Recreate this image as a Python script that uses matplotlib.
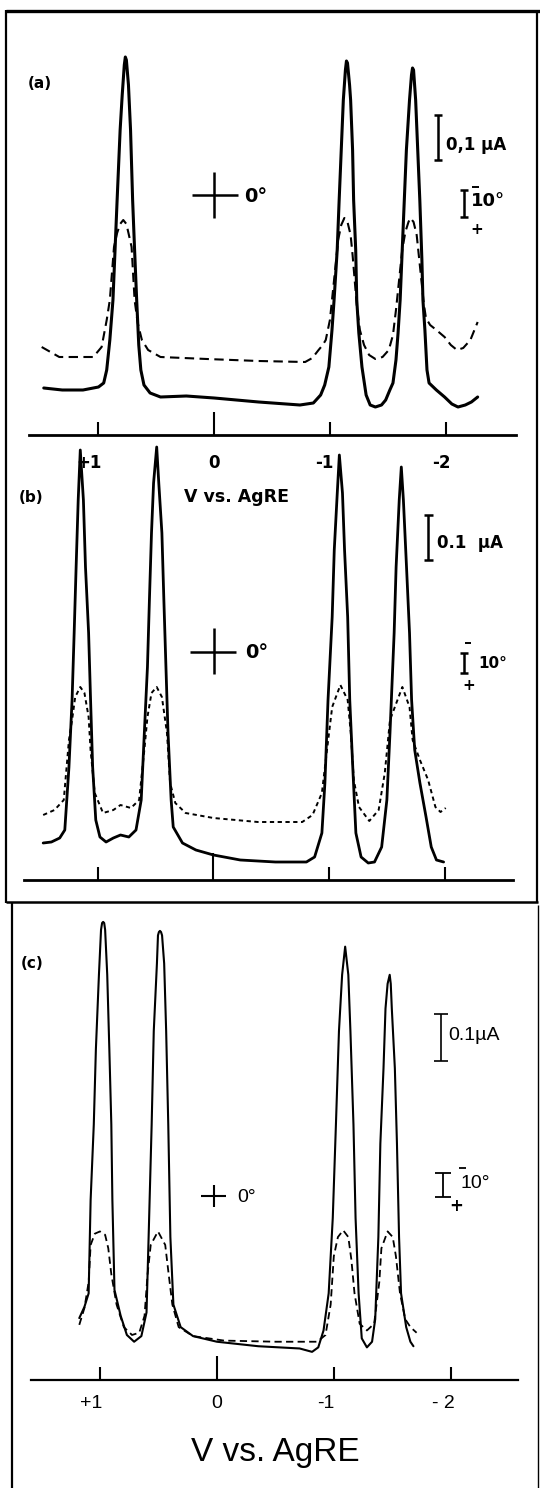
import matplotlib
matplotlib.use("Agg")
import matplotlib.pyplot as plt
from matplotlib.ticker import FixedLocator
from matplotlib.transforms import offset_copy

W, H = 540, 1488

# ---- data: (potential V vs. AgRE, pen deflection in arb. units) ----
# panel (a)
a_solid = [(1.473, 47), (1.313, 45), (1.134, 45), (1.000, 48), (0.955, 52), (0.929, 65),
           (0.902, 95), (0.875, 135), (0.857, 185), (0.839, 235), (0.813, 305), (0.795, 340),
           (0.777, 370), (0.768, 378), (0.759, 375), (0.741, 350), (0.723, 305), (0.705, 235),
           (0.688, 185), (0.670, 135), (0.652, 90), (0.634, 65), (0.607, 50), (0.554, 42),
           (0.464, 38), (0.241, 39), (0.0, 37), (-0.384, 33), (-0.741, 30), (-0.857, 32),
           (-0.920, 40), (-0.955, 50), (-0.991, 68), (-1.018, 105), (-1.036, 135), (-1.063, 185),
           (-1.080, 235), (-1.098, 285), (-1.116, 335), (-1.134, 365), (-1.143, 374), (-1.152, 372),
           (-1.170, 350), (-1.179, 335), (-1.196, 285), (-1.205, 235), (-1.223, 185), (-1.232, 135),
           (-1.250, 102), (-1.277, 68), (-1.313, 40), (-1.348, 30), (-1.393, 28), (-1.446, 30),
           (-1.482, 35), (-1.518, 45), (-1.545, 52), (-1.571, 75), (-1.589, 102), (-1.607, 135),
           (-1.625, 185), (-1.643, 235), (-1.661, 285), (-1.688, 335), (-1.705, 360), (-1.714, 367),
           (-1.723, 365), (-1.741, 335), (-1.759, 285), (-1.777, 235), (-1.795, 175), (-1.804, 135),
           (-1.821, 105), (-1.839, 65), (-1.857, 52), (-1.920, 45), (-1.991, 38), (-2.054, 31),
           (-2.107, 28), (-2.170, 30), (-2.223, 33), (-2.277, 38)]
a_dashed = [(1.491, 88), (1.339, 78), (1.045, 78), (0.973, 88), (0.929, 115), (0.902, 135),
            (0.866, 188), (0.839, 202), (0.813, 211), (0.786, 215), (0.759, 211), (0.741, 202),
            (0.714, 188), (0.688, 135), (0.661, 112), (0.625, 95), (0.571, 85), (0.464, 78),
            (0.063, 76), (-0.384, 74), (-0.786, 73), (-0.848, 77), (-0.902, 85), (-0.938, 90),
            (-0.964, 95), (-1.000, 115), (-1.027, 145), (-1.054, 175), (-1.071, 195), (-1.098, 210),
            (-1.125, 217), (-1.152, 213), (-1.179, 200), (-1.196, 180), (-1.214, 155), (-1.232, 130),
            (-1.259, 105), (-1.295, 90), (-1.339, 80), (-1.393, 76), (-1.455, 78), (-1.509, 85),
            (-1.545, 100), (-1.571, 125), (-1.598, 155), (-1.625, 185), (-1.652, 203), (-1.679, 213),
            (-1.696, 217), (-1.723, 213), (-1.750, 200), (-1.768, 180), (-1.795, 150), (-1.813, 130),
            (-1.830, 117), (-1.866, 110), (-1.920, 105), (-1.991, 98), (-2.045, 90), (-2.098, 85),
            (-2.152, 87), (-2.214, 95), (-2.277, 113)]

# panel (b)
b_solid = [(1.473, 37), (1.402, 38), (1.330, 42), (1.286, 50), (1.250, 113), (1.223, 180),
           (1.205, 247), (1.188, 313), (1.170, 380), (1.152, 430), (1.125, 380), (1.107, 313),
           (1.080, 247), (1.063, 180), (1.045, 113), (1.018, 60), (0.982, 43), (0.929, 38),
           (0.866, 42), (0.804, 45), (0.732, 43), (0.670, 50), (0.625, 80), (0.598, 147),
           (0.571, 213), (0.554, 280), (0.536, 347), (0.518, 397), (0.491, 433), (0.473, 397),
           (0.446, 347), (0.429, 280), (0.411, 213), (0.393, 147), (0.366, 80), (0.348, 53),
           (0.268, 37), (0.152, 30), (0.0, 25), (-0.232, 20), (-0.536, 18), (-0.804, 18),
           (-0.875, 23), (-0.938, 47), (-0.964, 97), (-0.991, 180), (-1.027, 263), (-1.045, 330),
           (-1.071, 387), (-1.089, 425), (-1.116, 387), (-1.134, 330), (-1.161, 263), (-1.179, 180),
           (-1.205, 113), (-1.232, 47), (-1.277, 23), (-1.339, 17), (-1.393, 18), (-1.455, 33),
           (-1.500, 80), (-1.527, 147), (-1.563, 247), (-1.580, 313), (-1.607, 380), (-1.625, 413),
           (-1.643, 380), (-1.670, 313), (-1.696, 247), (-1.714, 180), (-1.741, 130), (-1.786, 97),
           (-1.839, 63), (-1.884, 33), (-1.929, 20), (-1.991, 18)]
b_dashed = [(1.473, 65), (1.375, 70), (1.295, 80), (1.250, 140), (1.223, 160), (1.196, 183),
            (1.152, 193), (1.116, 187), (1.080, 163), (1.063, 130), (1.027, 87), (0.955, 67),
            (0.866, 70), (0.804, 75), (0.714, 72), (0.643, 80), (0.598, 130), (0.571, 163),
            (0.536, 187), (0.491, 193), (0.446, 183), (0.402, 147), (0.375, 97), (0.330, 77),
            (0.241, 67), (0.0, 62), (-0.384, 58), (-0.768, 58), (-0.857, 65), (-0.938, 87),
            (-0.982, 130), (-1.027, 173), (-1.098, 195), (-1.161, 180), (-1.188, 147), (-1.214, 100),
            (-1.259, 73), (-1.348, 59), (-1.429, 70), (-1.482, 107), (-1.527, 160), (-1.634, 193),
            (-1.696, 173), (-1.723, 140), (-1.786, 120), (-1.857, 100), (-1.920, 73), (-1.964, 68),
            (-2.009, 72)]

# panel (c)
c_solid = [(1.177, 55), (1.133, 65), (1.097, 77), (1.080, 160), (1.053, 227), (1.035, 294),
           (1.009, 360), (0.991, 400), (0.982, 406), (0.973, 407), (0.964, 406), (0.956, 400),
           (0.938, 360), (0.920, 294), (0.903, 227), (0.894, 160), (0.876, 80), (0.823, 57),
           (0.770, 40), (0.708, 34), (0.646, 39), (0.602, 60), (0.584, 127), (0.558, 227),
           (0.540, 310), (0.513, 370), (0.504, 395), (0.496, 398), (0.487, 399), (0.478, 398),
           (0.469, 395), (0.451, 370), (0.434, 310), (0.416, 227), (0.398, 127), (0.372, 67),
           (0.310, 47), (0.204, 39), (0.0, 34), (-0.354, 30), (-0.708, 28), (-0.814, 25),
           (-0.867, 29), (-0.912, 44), (-0.956, 77), (-0.991, 144), (-1.018, 227), (-1.044, 310),
           (-1.071, 360), (-1.097, 385), (-1.124, 360), (-1.142, 310), (-1.168, 227), (-1.186, 144),
           (-1.212, 77), (-1.239, 37), (-1.283, 29), (-1.327, 34), (-1.354, 54), (-1.381, 127),
           (-1.398, 210), (-1.425, 277), (-1.442, 330), (-1.460, 352), (-1.478, 360), (-1.487, 352),
           (-1.496, 330), (-1.522, 277), (-1.540, 210), (-1.558, 127), (-1.575, 77), (-1.619, 47),
           (-1.655, 34), (-1.681, 30)]
c_dashed = [(1.177, 49), (1.133, 64), (1.097, 87), (1.080, 120), (1.044, 130), (1.000, 132),
            (0.956, 129), (0.929, 117), (0.903, 94), (0.858, 67), (0.796, 47), (0.726, 40),
            (0.664, 42), (0.619, 57), (0.593, 94), (0.566, 120), (0.504, 132), (0.442, 120),
            (0.416, 97), (0.381, 67), (0.327, 47), (0.204, 39), (-0.062, 35), (-0.504, 34),
            (-0.858, 34), (-0.929, 40), (-0.973, 67), (-1.000, 110), (-1.035, 127), (-1.080, 133),
            (-1.124, 127), (-1.150, 107), (-1.177, 77), (-1.221, 50), (-1.283, 44), (-1.345, 50),
            (-1.389, 87), (-1.407, 117), (-1.460, 132), (-1.504, 127), (-1.531, 110), (-1.566, 77),
            (-1.611, 54), (-1.655, 47), (-1.708, 42)]

tick_major = [0]
tick_minor = [1, -1, -2]
tick_text_ab = {1: "+1", 0: "0", -1: "-1", -2: "-2"}
tick_text_c = {1: "+1", 0: "0", -1: "-1", -2: "- 2"}

THIN = ["Liberation Sans", "DejaVu Sans"]


def px_rect(x0, x1, ytop, ybot):
    return [x0 / W, 1 - ybot / H, (x1 - x0) / W, (ybot - ytop) / H]


fig = plt.figure(figsize=(W / 100, H / 100), dpi=100)
fig.patch.set_facecolor("white")


def make_panel(rect, xlim, ytop, spine_lw, len0, len1):
    ax = fig.add_axes(rect)
    ax.patch.set_visible(False)
    ax.set_xlim(*xlim)
    ax.set_ylim(0, ytop)
    for s in ("top", "left", "right"):
        ax.spines[s].set_visible(False)
    ax.spines["bottom"].set_linewidth(spine_lw)
    ax.set_yticks([])
    ax.xaxis.set_major_locator(FixedLocator(tick_major))
    ax.xaxis.set_minor_locator(FixedLocator(tick_minor))
    ax.tick_params(axis="x", which="major", direction="in", length=len0, width=1.5,
                   labelbottom=False)
    ax.tick_params(axis="x", which="minor", direction="in", length=len1, width=1.5,
                   labelbottom=False)
    return ax


def draw(ax, pts, **kw):
    xs = [p[0] for p in pts]
    ys = [p[1] for p in pts]
    ax.plot(xs, ys, color="black", clip_on=False, solid_joinstyle="round",
            solid_capstyle="round", **kw)


ax_a = make_panel(px_rect(29.3, 515.5, 14, 435), (1.598, -2.604), 421, 2.0, 16.6, 9.4)
ax_b = make_panel(px_rect(24.1, 513.1, 440, 880), (1.638, -2.592), 440, 2.0, 19.4, 9.4)
ax_c = make_panel(px_rect(31.0, 518.2, 905, 1380), (1.590, -2.577), 422, 1.6, 17.3, 9.4)

draw(ax_a, a_solid, lw=2.2)
draw(ax_a, a_dashed, lw=1.5, linestyle=(0, (4.5, 2.6)))
draw(ax_b, b_solid, lw=2.0)
draw(ax_b, b_dashed, lw=1.4, linestyle=(0, (2.2, 1.8)))
draw(ax_c, c_solid, lw=1.5)
draw(ax_c, c_dashed, lw=1.3, linestyle=(0, (4.0, 2.4)))

# tick labels under (a) and (c)
shift_a = {1: 3, 0: 0, -1: 4, -2: 5}
for v in tick_major + tick_minor:
    tr = offset_copy(ax_a.get_xaxis_transform(), fig=fig, x=shift_a[v], y=-28, units="dots")
    ax_a.text(v, 0, tick_text_ab[v], transform=tr, ha="center" if v == 0 else "right",
              va="center", fontsize=12, fontweight="bold")
shift_c = {1: 2, 0: 0, -1: 1, -2: 4}
for v in tick_major + tick_minor:
    tr = offset_copy(ax_c.get_xaxis_transform(), fig=fig, x=shift_c[v], y=-24, units="dots")
    ax_c.text(v, 0, tick_text_c[v], transform=tr, ha="center" if v == 0 else "right",
              va="center", fontsize=14, family=THIN)

# overlay in pixel coordinates for frames, scale bars and labels
ov = fig.add_axes([0, 0, 1, 1])
ov.set_xlim(0, W)
ov.set_ylim(H, 0)
ov.axis("off")
ov.patch.set_visible(False)


def seg(x0, y0, x1, y1, lw=1.5):
    ov.plot([x0, x1], [y0, y1], color="black", lw=lw, solid_capstyle="butt")


def ibar(x, y0, y1, cap, lw):
    seg(x, y0, x, y1, lw)
    seg(x - cap, y0, x + cap, y0, lw)
    seg(x - cap, y1, x + cap, y1, lw)


def cross(x0, x1, y, xv, y0, y1, lw):
    seg(x0, y, x1, y, lw)
    seg(xv, y0, xv, y1, lw)


# frames
seg(6, 10.5, 540, 10.5, 2.4)
seg(6, 10, 6, 903, 1.6)
seg(537, 10, 537, 903, 1.6)
seg(6, 902, 538, 902, 1.8)
seg(12, 902, 12, 1488, 1.6)
seg(538, 905, 538, 1488, 1.0)

# panel (a) annotations
ov.text(28, 83, "(a)", fontsize=11, fontweight="bold", va="center", ha="left")
ibar(438, 115, 160, 4, 1.8)
ov.text(446, 145, "0,1 µA", fontsize=12, fontweight="bold", va="center", ha="left")
ibar(464, 190, 217, 4, 1.8)
seg(472, 187, 479, 187, 1.4)
ov.text(471, 201, "10°", fontsize=13, fontweight="bold", va="center", ha="left")
ov.text(477, 230, "+", fontsize=11, fontweight="bold", va="center", ha="center")
cross(192, 238, 195, 214, 172, 218, 1.8)
ov.text(244, 196, "0°", fontsize=14, fontweight="bold", va="center", ha="left")
ov.text(236, 497, "V vs. AgRE", fontsize=12.5, fontweight="bold", va="center", ha="center")

# panel (b) annotations
ov.text(19, 497, "(b)", fontsize=11, fontweight="bold", va="center", ha="left")
ibar(428, 515, 560, 4.5, 1.8)
ov.text(437, 543, "0.1  µA", fontsize=12, fontweight="bold", va="center", ha="left")
ibar(464, 653, 673, 4, 1.8)
seg(465, 643, 471, 643, 1.4)
ov.text(478, 663, "10°", fontsize=11, fontweight="bold", va="center", ha="left")
ov.text(469, 686, "+", fontsize=11, fontweight="bold", va="center", ha="center")
cross(190, 236, 652, 213.5, 628, 674, 1.8)
ov.text(245, 653, "0°", fontsize=14, fontweight="bold", va="center", ha="left")

# panel (c) annotations
ov.text(21, 964, "(c)", fontsize=11, fontweight="bold", va="center", ha="left")
ibar(441, 1014, 1061, 7, 1.2)
ov.text(448, 1035, "0.1µA", fontsize=14, family=THIN, va="center", ha="left")
ibar(443, 1173, 1197, 8, 1.3)
seg(459, 1168, 466, 1168, 1.3)
ov.text(461, 1183, "10°", fontsize=14, family=THIN, va="center", ha="left")
ov.text(456, 1206, "+", fontsize=12, fontweight="bold", va="center", ha="center")
cross(201, 226, 1196, 213.5, 1185, 1207, 1.5)
ov.text(237, 1197, "0°", fontsize=14, family=THIN, va="center", ha="left")
ov.text(275, 1453, "V vs. AgRE", fontsize=24, family=THIN, va="center", ha="center")

fig.savefig("out.png", dpi=100, facecolor="white")
